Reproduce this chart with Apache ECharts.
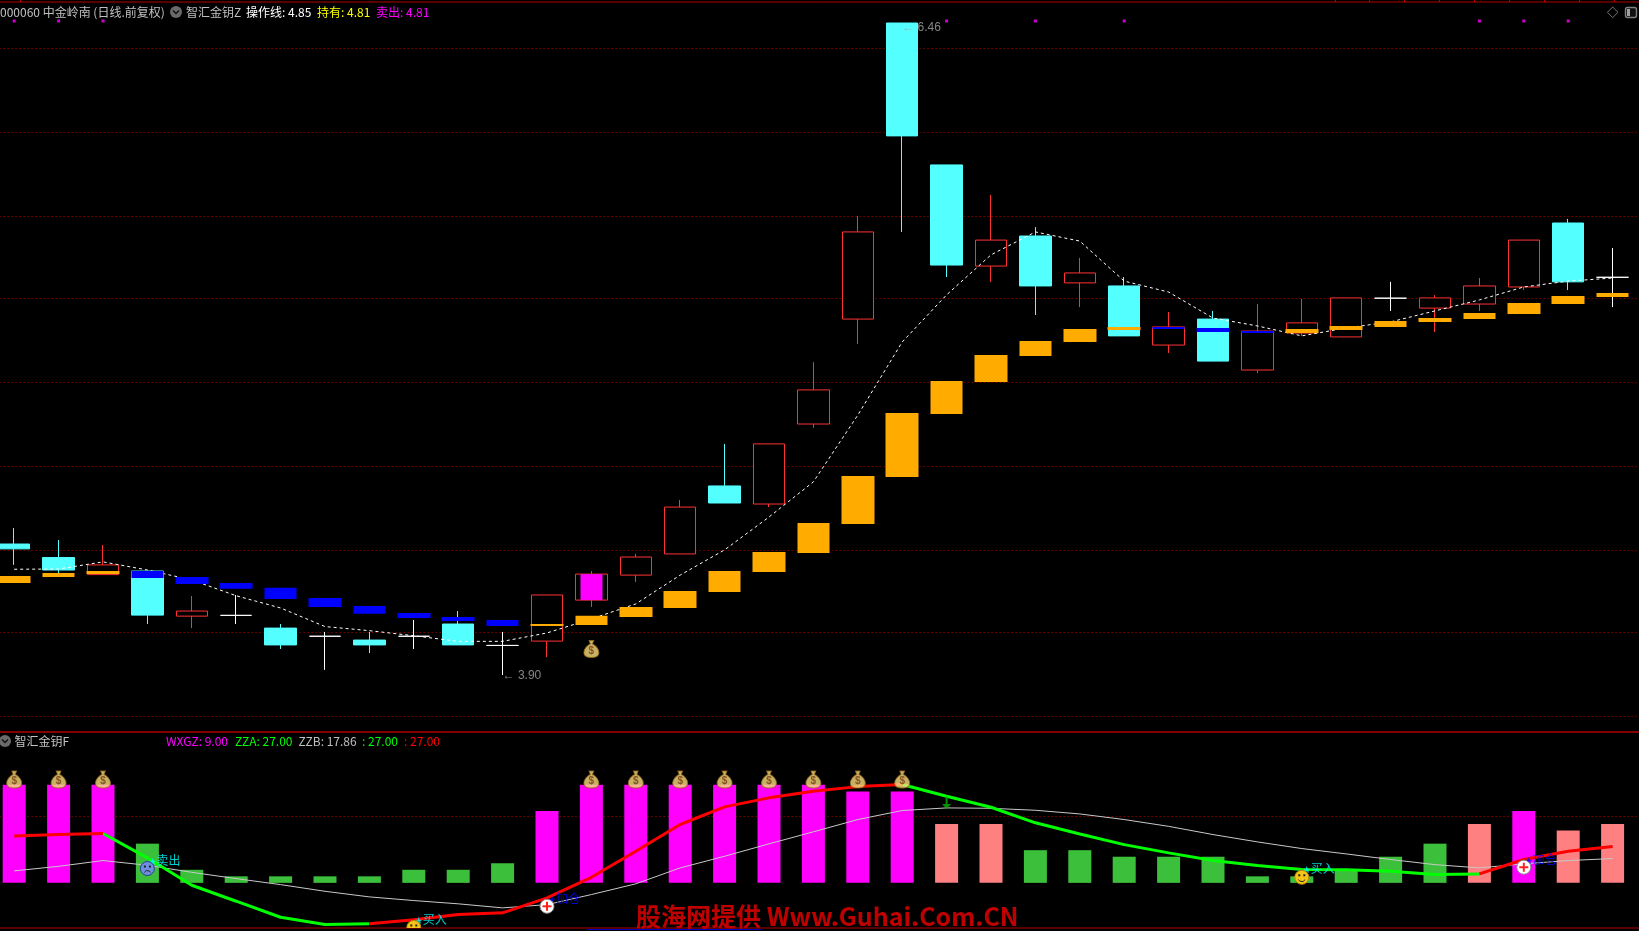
<!DOCTYPE html>
<html>
<head>
<meta charset="utf-8">
<title>000060 中金岭南</title>
<script src="https://cdn.jsdelivr.net/npm/echarts@6/dist/echarts.min.js"></script>
<style>
  html, body { margin: 0; padding: 0; background: #000; }
  #chart { width: 1639px; height: 931px; }
</style>
</head>
<body>
<div id="chart"></div>
<script>
// K线 (index 0..36)
const candleOpen  = [4.415,4.362,4.295,4.309,4.132,4.135,4.085,4.053,4.038,4.053,4.101,4.017,4.034,4.195,4.293,4.376,4.643,4.572,4.886,5.298,6.460,5.903,5.506,5.624,5.440,5.428,5.196,5.298,5.098,5.243,5.228,5.380,5.341,5.357,5.424,5.675,5.462]
const candleClose = [4.396,4.313,4.333,4.136,4.152,4.135,4.019,4.053,4.019,4.053,4.019,4.017,4.215,4.297,4.364,4.560,4.576,4.808,5.020,5.640,6.017,5.510,5.608,5.428,5.479,5.232,5.267,5.133,5.251,5.283,5.381,5.380,5.381,5.428,5.608,5.444,5.462]
const candleLow   = [4.333,4.301,4.295,4.101,4.085,4.101,4.003,3.921,3.987,4.003,4.019,3.901,3.971,4.168,4.266,4.376,4.576,4.560,4.871,5.200,5.640,5.463,5.444,5.314,5.345,5.232,5.165,5.133,5.086,5.232,5.228,5.330,5.247,5.330,5.412,5.412,5.345]
const candleHigh  = [4.478,4.431,4.411,4.309,4.211,4.215,4.101,4.070,4.070,4.117,4.152,4.070,4.215,4.309,4.376,4.588,4.808,4.808,5.129,5.703,6.460,5.903,5.785,5.659,5.538,5.463,5.326,5.330,5.357,5.377,5.381,5.444,5.392,5.459,5.608,5.691,5.577]

// 操作线
const lineOperate = [4.316,4.317,4.345,4.313,4.274,4.212,4.164,4.091,4.075,4.055,4.033,4.033,4.066,4.121,4.180,4.293,4.392,4.521,4.659,4.921,5.208,5.393,5.550,5.640,5.604,5.447,5.404,5.302,5.271,5.232,5.263,5.287,5.330,5.373,5.424,5.447,5.459]

// 持有 band
const holdTop = [4.290,4.301,4.309,null,null,null,null,null,null,null,null,null,4.101,4.133,4.168,4.231,4.309,4.384,4.498,4.682,4.929,5.055,5.157,5.212,5.259,5.267,null,null,null,5.259,5.271,5.290,5.302,5.322,5.361,5.389,5.400]
const holdBottom = [4.262,4.286,4.297,null,null,null,null,null,null,null,null,null,4.093,4.097,4.129,4.164,4.227,4.305,4.380,4.494,4.678,4.925,5.051,5.153,5.208,5.255,null,null,null,5.243,5.255,5.267,5.286,5.298,5.318,5.357,5.385]

// 卖出 band
const sellTop = [null,null,null,4.309,4.286,4.262,4.243,4.203,4.172,4.144,4.129,4.117,null,null,null,null,null,null,null,null,null,null,null,null,null,null,5.267,5.263,5.251,null,null,null,null,null,null,null,null]
const sellBottom = [null,null,null,4.282,4.258,4.239,4.199,4.168,4.141,4.125,4.113,4.093,null,null,null,null,null,null,null,null,null,null,null,null,null,null,5.259,5.247,5.243,null,null,null,null,null,null,null,null]

// main panel extras
const priceLevels = [6.3599,6.0342,5.7045,5.3787,5.0490,4.7213,4.3935,4.0677,3.7380]
const topDotIndex = [0,1,2,21,23,25,33,34,35]
const topDotPrice = 6.468
const boxIndex = 13
const boxTop = 4.297
const boxBottom = 4.195
const mainBagIndex = 13
const mainBagPrice = 4.003
const highIndex = 20
const highPrice = 6.46
const lowIndex = 11
const lowPrice = 3.90

// 副图
const wxgz = [15,15,15,6,2,1,1,1,1,2,2,3,11,15,15,15,15,15,15,14,14,9,9,5,5,4,4,4,1,1,2,4,6,9,11,8,9]
const zzb = [8.4,11.9,16.3,12.7,7.3,2.5,-2.1,-7.2,-11.5,-14.3,-16.8,-19.9,-17.4,-9.7,-1.5,10.7,19.6,29.1,38.3,47.7,54.6,56.6,56.3,54.8,52.0,47.7,42.5,36.2,30.6,25.5,21.4,17.1,13.2,10.7,13.8,16.3,17.86]
const zzaGreen = [null,null,37.0,18.4,-2.6,-14.8,-27.1,-32.7,-32.1,null,null,null,null,null,null,null,null,null,null,null,74.5,65.5,57.1,45.2,36.7,28.5,22.2,16.3,12.5,9.4,9.2,8.1,5.6,6.1,null,null,null]
const zzaRed = [35.2,36.2,37.0,null,null,null,null,null,-32.1,-28.9,-25.0,-23.7,-12.2,3.5,23.4,43.9,57.4,64.3,69.3,72.9,74.5,null,null,null,null,null,null,null,null,null,null,null,null,6.1,17.1,23.4,27.0]
const subLevels = [50]
const bagIndex = [0,1,2,13,14,15,16,17,18,19,20]
const bagValue = 78.3
const arrowIndex = 21
const arrowValue = 60.7
const sadFaces = [[3,10.2]]
const smileFaces = [[9,-34.9],[29,3.5]]
const plusIcons = [[12,-18.7],[34,11.2]]
const buySellTexts = [[3,16.3,'卖出'],[9,-28.9,'买入'],[29,10.2,'买入']]
const addTexts = [[12,-12.7,'加仓'],[34,17.1,'加仓']]

// 图例文字
const titleName = '000060 中金岭南 (日线.前复权)'
const mainIndicator = '智汇金钥Z'
const subIndicator = '智汇金钥F'
const mainLegend = [['操作线: 4.85', '#ffffff', 246], ['持有: 4.81', '#ffff00', 317], ['卖出: 4.81', '#ff00ff', 376]]
const subLegend = [['WXGZ: 9.00', '#ff00ff', 166], ['ZZA: 27.00', '#00ff00', 235], ['ZZB: 17.86', '#c0c0c0', 298.5], [': 27.00', '#00ff00', 362], [': 27.00', '#ff0000', 404]]
const watermark = '股海网提供 Www.Guhai.Com.CN'

const categories = ['', ...candleOpen.map((_, i) => 'K' + i), '']
const pad = (arr) => [null, ...arr, null]
const bandData = (tops, bottoms) => pad(tops.map((t, i) => t === null ? ['-', '-', '-', '-'] : [bottoms[i], t, bottoms[i], t])).map(d => d || ['-', '-', '-', '-'])
const candleData = pad(candleOpen.map((o, i) => [o, candleClose[i], candleLow[i], candleHigh[i]])).map(d => d || ['-', '-', '-', '-'])
const boxData = bandData(candleOpen.map((_, i) => i === boxIndex ? boxTop : null), candleOpen.map((_, i) => i === boxIndex ? boxBottom : null))

const BAG_PATH = 'path://M6 0 L11 0 L9.6 3.6 C13 5 16.5 9 16.5 13 C16.5 16.6 13 18 8.5 18 C4 18 0.5 16.6 0.5 13 C0.5 9 4 5 7.4 3.6 Z'
const ARROW_PATH = 'path://M3.5 0 H5.5 V8 H9 L4.5 13 L0 8 H3.5 Z'

// 笑脸/哭脸/加号 图标
const faceRender = (kind) => (params, api) => {
  const [x, y] = api.coord([api.value(0), api.value(1)])
  const r = 7
  if (kind === 'plus') {
    return { type: 'group', children: [
      { type: 'circle', shape: { cx: x, cy: y, r: r }, style: { fill: '#fff', stroke: '#888', lineWidth: 1 } },
      { type: 'rect', shape: { x: x - 4.5, y: y - 1, width: 9, height: 2 }, style: { fill: '#ff2020' } },
      { type: 'rect', shape: { x: x - 1, y: y - 4.5, width: 2, height: 9 }, style: { fill: '#ff2020' } }
    ] }
  }
  const sad = kind === 'sad'
  return { type: 'group', children: [
    { type: 'circle', shape: { cx: x, cy: y, r: r }, style: { fill: sad ? '#6f8fe0' : '#f5c518', stroke: sad ? '#24408a' : '#b8860b', lineWidth: 1 } },
    { type: 'rect', shape: { x: x - 3.5, y: y - 3, width: 2, height: 2 }, style: { fill: '#222' } },
    { type: 'rect', shape: { x: x + 1.5, y: y - 3, width: 2, height: 2 }, style: { fill: '#222' } },
    { type: 'arc', shape: sad
      ? { cx: x, cy: y + 5.5, r: 3.5, startAngle: Math.PI * 1.15, endAngle: Math.PI * 1.85 }
      : { cx: x, cy: y + 0.5, r: 3.8, startAngle: Math.PI * 0.15, endAngle: Math.PI * 0.85 },
      style: { fill: null, stroke: '#222', lineWidth: 1 } }
  ] }
}

const faceSeries = (data, kind) => ({
  type: 'custom',
  xAxisIndex: 1,
  yAxisIndex: 1,
  clip: true,
  z: 8,
  silent: true,
  data: data.map(d => [d[0] + 1, d[1]]),
  renderItem: faceRender(kind)
})

const signalSeries = (data, color) => ({
  type: 'scatter',
  xAxisIndex: 1,
  yAxisIndex: 1,
  symbolSize: 0,
  z: 7,
  silent: true,
  data: data.map(d => ({ value: [d[0] + 1, d[1]], text: d[2] })),
  label: {
    show: true,
    position: 'right',
    distance: 1,
    color: color,
    fontFamily: 'Noto Sans CJK SC',
    formatter: (p) => '{s|★}' + p.data.text,
    fontSize: 12,
    rich: { s: { fontSize: 8, color: color } }
  }
})

const levelSeries = (levels, xIdx, yIdx) => ({
  type: 'line',
  xAxisIndex: xIdx,
  yAxisIndex: yIdx,
  data: [],
  z: 1,
  silent: true,
  markLine: {
    silent: true,
    symbol: 'none',
    animation: false,
    z: 1,
    label: { show: false },
    lineStyle: { color: '#b00000', width: 1, type: [1, 3] },
    data: levels.map(v => ({ yAxis: v }))
  }
})

const priceNote = (idx, price, text, dy) => ({
  type: 'scatter',
  xAxisIndex: 0,
  yAxisIndex: 0,
  symbolSize: 0,
  z: 9,
  silent: true,
  data: [[idx + 1, price]],
  label: { show: true, position: 'right', distance: 0, offset: [0, dy], color: '#a8a8a8', fontFamily: 'Liberation Sans', fontSize: 12, formatter: text }
})

const textEl = (text, x, y, fill, font) => ({
  type: 'text',
  z: 20,
  style: { text: text, x: x, y: y, fill: fill, font: font || '12px "Noto Sans CJK SC"', textVerticalAlign: 'middle' }
})

const chevronIcon = (cx, cy) => ([
  { type: 'circle', z: 20, shape: { cx: cx, cy: cy, r: 6 }, style: { fill: '#6a6a6a' } },
  { type: 'polyline', z: 21, shape: { points: [[cx - 3, cy - 1.5], [cx, cy + 1.5], [cx + 3, cy - 1.5]] }, style: { fill: null, stroke: '#111', lineWidth: 1.4 } }
])

const topTicks = [20,1335,1369,1404,1439,1474,1509,1544,1579,1614].map(x => ({
  type: 'line', z: 20, shape: { x1: x + 0.5, y1: 0, x2: x + 0.5, y2: 2 }, style: { stroke: '#b00000', lineWidth: 1 }
}))

const chart = echarts.init(document.getElementById('chart'))

chart.setOption({
  backgroundColor: '#000',
  animation: false,
  grid: [
    { left: -52.4, width: 1731.6, top: 2, height: 730, outerBoundsMode: 'none', show: true, borderColor: '#b00000', borderWidth: 1, backgroundColor: 'transparent' },
    { left: -52.4, width: 1731.6, top: 732, height: 196, outerBoundsMode: 'none', show: true, borderColor: '#b00000', borderWidth: 1, backgroundColor: 'transparent' }
  ],
  xAxis: [
    { type: 'category', gridIndex: 0, data: categories, show: false },
    { type: 'category', gridIndex: 1, data: categories, show: false }
  ],
  yAxis: [
    { type: 'value', gridIndex: 0, min: 3.6772, max: 6.5425, show: false, splitLine: { show: false } },
    { type: 'value', gridIndex: 1, min: -35.3, max: 114.7, show: false, splitLine: { show: false } },
    { type: 'value', gridIndex: 1, min: -6.91, max: 23.09, show: false, splitLine: { show: false } }
  ],
  graphic: [
    ...topTicks,
    textEl(titleName, 0, 12, '#c0c0c0'),
    ...chevronIcon(176, 12),
    textEl(mainIndicator, 186, 12, '#c0c0c0'),
    ...mainLegend.map(d => textEl(d[0], d[2], 12, d[1])),
    ...chevronIcon(5, 741),
    textEl(subIndicator, 14.5, 741, '#c0c0c0'),
    ...subLegend.map(d => textEl(d[0], d[2], 741, d[1])),
    textEl(watermark, 636, 916, '#c00000', 'bold 25px "Noto Sans CJK SC"'),
    { type: 'polygon', z: 20, shape: { points: [[1612.7, 7], [1618, 12.3], [1612.7, 17.6], [1607.4, 12.3]] }, style: { fill: null, stroke: '#777', lineWidth: 1 } },
    { type: 'rect', z: 20, shape: { x: 1625.5, y: 7.5, width: 11, height: 10, r: 2 }, style: { fill: '#111', stroke: '#808080', lineWidth: 1.4 } },
    { type: 'rect', z: 21, shape: { x: 1627, y: 9, width: 3, height: 7 }, style: { fill: '#a0a0a0' } },
    { type: 'line', z: 20, shape: { x1: 587, y1: 929.5, x2: 761.5, y2: 929.5 }, style: { stroke: '#0000c0', lineWidth: 1 } }
  ],
  series: [
    levelSeries(priceLevels, 0, 0),
    {
      name: 'K线',
      type: 'candlestick',
      xAxisIndex: 0,
      yAxisIndex: 0,
      barWidth: 32,
      z: 2,
      silent: true,
      data: candleData,
      itemStyle: {
        color: '#000',
        color0: '#54ffff',
        borderColor: '#ff3232',
        borderColor0: '#54ffff',
        borderColorDoji: '#ffffff',
        borderWidth: 1
      }
    },
    {
      name: '操作线',
      type: 'line',
      xAxisIndex: 0,
      yAxisIndex: 0,
      z: 3,
      silent: true,
      symbol: 'none',
      data: pad(lineOperate),
      lineStyle: { color: '#ffffff', width: 1, type: [3, 3] }
    },
    {
      name: '持有',
      type: 'candlestick',
      xAxisIndex: 0,
      yAxisIndex: 0,
      barWidth: 33,
      z: 4,
      silent: true,
      data: bandData(holdTop, holdBottom),
      itemStyle: { color: '#ffab00', borderColor: '#ffab00', color0: '#ffab00', borderColor0: '#ffab00', borderWidth: 0 }
    },
    {
      name: '卖出',
      type: 'candlestick',
      xAxisIndex: 0,
      yAxisIndex: 0,
      barWidth: 33,
      z: 4,
      silent: true,
      data: bandData(sellTop, sellBottom),
      itemStyle: { color: '#0000ff', borderColor: '#0000ff', color0: '#0000ff', borderColor0: '#0000ff', borderWidth: 0 }
    },
    {
      type: 'candlestick',
      xAxisIndex: 0,
      yAxisIndex: 0,
      barWidth: 23,
      z: 4,
      silent: true,
      data: boxData,
      itemStyle: { color: '#ff00ff', borderColor: '#ff00ff', color0: '#ff00ff', borderColor0: '#ff00ff', borderWidth: 0 }
    },
    {
      type: 'scatter',
      xAxisIndex: 0,
      yAxisIndex: 0,
      symbol: 'rect',
      symbolSize: 3,
      z: 5,
      silent: true,
      clip: false,
      data: topDotIndex.map(i => [i + 1, topDotPrice]),
      itemStyle: { color: '#ff00ff' }
    },
    {
      type: 'scatter',
      xAxisIndex: 0,
      yAxisIndex: 0,
      symbol: BAG_PATH,
      symbolSize: [15, 17],
      z: 5,
      silent: true,
      data: [[mainBagIndex + 1, mainBagPrice]],
      itemStyle: { color: '#f8de7e', borderColor: '#9a6a1c', borderWidth: 1 },
      label: { show: true, position: 'inside', offset: [0, 2], formatter: '$', color: '#7a3a10', fontSize: 10, fontWeight: 'bold', fontFamily: 'Liberation Sans' }
    },
    priceNote(highIndex, highPrice, '← 6.46', 5),
    priceNote(lowIndex, lowPrice, '← 3.90', 0),

    levelSeries(subLevels, 1, 1),
    {
      name: 'WXGZ',
      type: 'bar',
      xAxisIndex: 1,
      yAxisIndex: 2,
      barWidth: 23,
      z: 2,
      silent: true,
      data: pad(wxgz),
      itemStyle: {
        color: (p) => p.value > 10 ? '#ff00ff' : (p.value > 6 ? '#ff8080' : '#3cc03c')
      }
    },
    {
      name: 'ZZB',
      type: 'line',
      xAxisIndex: 1,
      yAxisIndex: 1,
      z: 3,
      silent: true,
      symbol: 'none',
      data: pad(zzb),
      lineStyle: { color: '#c8c8c8', width: 1 }
    },
    {
      name: 'ZZA',
      type: 'line',
      xAxisIndex: 1,
      yAxisIndex: 1,
      z: 4,
      silent: true,
      symbol: 'none',
      data: pad(zzaGreen),
      lineStyle: { color: '#00ff00', width: 3 }
    },
    {
      name: 'ZZA2',
      type: 'line',
      xAxisIndex: 1,
      yAxisIndex: 1,
      z: 4,
      silent: true,
      symbol: 'none',
      data: pad(zzaRed),
      lineStyle: { color: '#ff0000', width: 3 }
    },
    {
      type: 'scatter',
      xAxisIndex: 1,
      yAxisIndex: 1,
      symbol: BAG_PATH,
      symbolSize: [15, 17],
      z: 6,
      silent: true,
      data: bagIndex.map(i => [i + 1, bagValue]),
      itemStyle: { color: '#f8de7e', borderColor: '#9a6a1c', borderWidth: 1 },
      label: { show: true, position: 'inside', offset: [0, 2], formatter: '$', color: '#7a3a10', fontSize: 10, fontWeight: 'bold', fontFamily: 'Liberation Sans' }
    },
    {
      type: 'scatter',
      xAxisIndex: 1,
      yAxisIndex: 1,
      symbol: ARROW_PATH,
      symbolSize: [9, 13],
      z: 6,
      silent: true,
      data: [[arrowIndex + 1, arrowValue]],
      itemStyle: { color: '#00b400' }
    },
    signalSeries(buySellTexts, '#00ffff'),
    signalSeries(addTexts, '#0000ff'),
    faceSeries(sadFaces, 'sad'),
    faceSeries(smileFaces, 'smile'),
    faceSeries(plusIcons, 'plus')
  ]
})
</script>
</body>
</html>
